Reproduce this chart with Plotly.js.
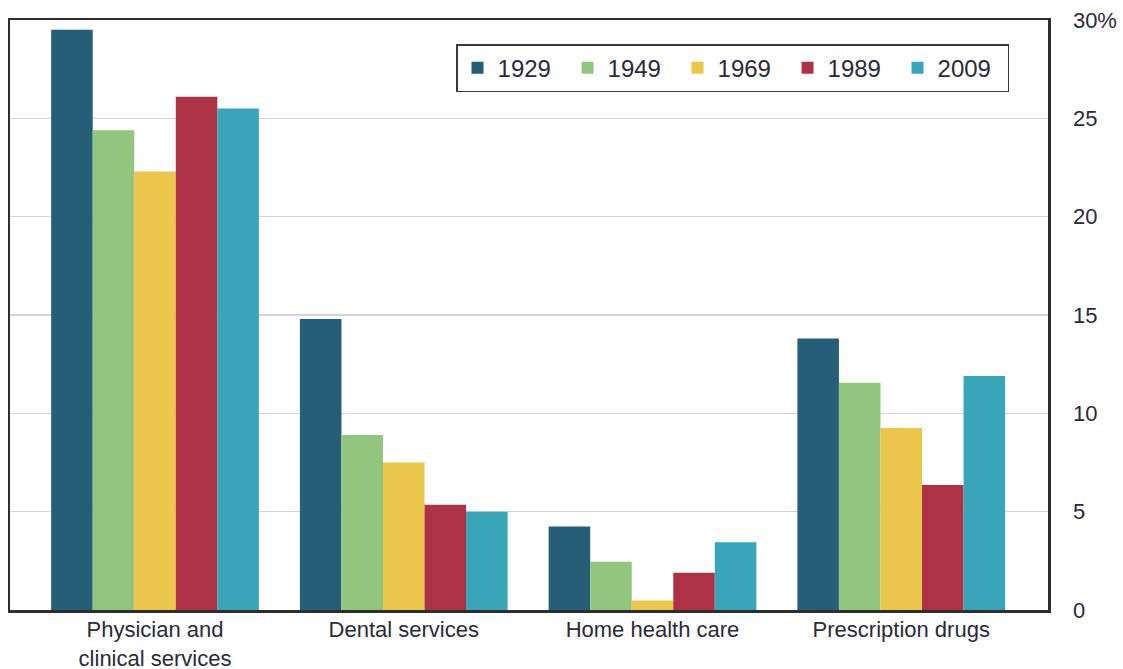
<!DOCTYPE html>
<html>
<head>
<meta charset="utf-8">
<script src="https://cdn.plot.ly/plotly-3.0.1.min.js"></script>
<style>html,body{margin:0;padding:0;background:#fff;}#chart{width:1123px;height:669px;}</style>
</head>
<body>
<div id="chart"></div>
<script>
const categories = ["Physician and<br>clinical services", "Dental services", "Home health care", "Prescription drugs"];
const years = ["1929", "1949", "1969", "1989", "2009"];
const v1929 = [29.5, 14.8, 4.25, 13.8];
const v1949 = [24.4, 8.9, 2.45, 11.55];
const v1969 = [22.3, 7.5, 0.48, 9.25];
const v1989 = [26.1, 5.35, 1.9, 6.35];
const v2009 = [25.5, 5.0, 3.45, 11.9];
const tickVals = [0, 5, 10, 15, 20, 25, 30];
const tickText = ["0", "5", "10", "15", "20", "25", "30%"];
const colors = ["#265e78", "#92c67e", "#eac64b", "#ae3246", "#38a5b9"];
const series = [v1929, v1949, v1969, v1989, v2009];

const font = "Liberation Sans, Arial, sans-serif";
const traces = series.map((vals, i) => ({
  type: "bar",
  name: years[i],
  x: [0, 1, 2, 3],
  y: vals,
  marker: {color: colors[i], line: {width: 0}},
  hoverinfo: "skip"
}));

const layout = {
  width: 1123, height: 669,
  margin: {l: 10, r: 75, t: 20, b: 59, autoexpand: false},
  paper_bgcolor: "#fff", plot_bgcolor: "#fff",
  barmode: "group", bargap: 0.165, bargroupgap: 0,
  font: {family: font, color: "#2a2a3a"},
  showlegend: true,
  legend: {
    orientation: "h", x: 0.4297, y: 0.959, xanchor: "left", yanchor: "top",
    bordercolor: "#3a3a3a", borderwidth: 1.5, bgcolor: "#fff",
    font: {size: 24, family: font, color: "#2a2a3a"},
    entrywidth: 65, entrywidthmode: "pixels",
    traceorder: "normal", itemsizing: "constant"
  },
  xaxis: {
    range: [-0.583, 3.59], automargin: false,
    tickvals: [0, 1, 2, 3], ticktext: categories,
    showline: true, mirror: true, linecolor: "#2e2e2e", linewidth: 2.5,
    ticks: "", showgrid: false, zeroline: false,
    tickfont: {size: 22, family: font, color: "#2a2a3a"}, ticklabelstandoff: -2
  },
  yaxis: {
    range: [0, 30], side: "right", automargin: false,
    tickvals: tickVals, ticktext: tickText,
    showline: true, mirror: true, linecolor: "#2e2e2e", linewidth: 2.5,
    ticks: "", showgrid: true, gridcolor: "#d4d4d4", gridwidth: 1.5, zeroline: false,
    tickfont: {size: 22, family: font, color: "#2a2a3a"}, ticklabelstandoff: 18
  }
};

Plotly.newPlot("chart", traces, layout, {displayModeBar: false, staticPlot: true});
</script>
</body>
</html>
